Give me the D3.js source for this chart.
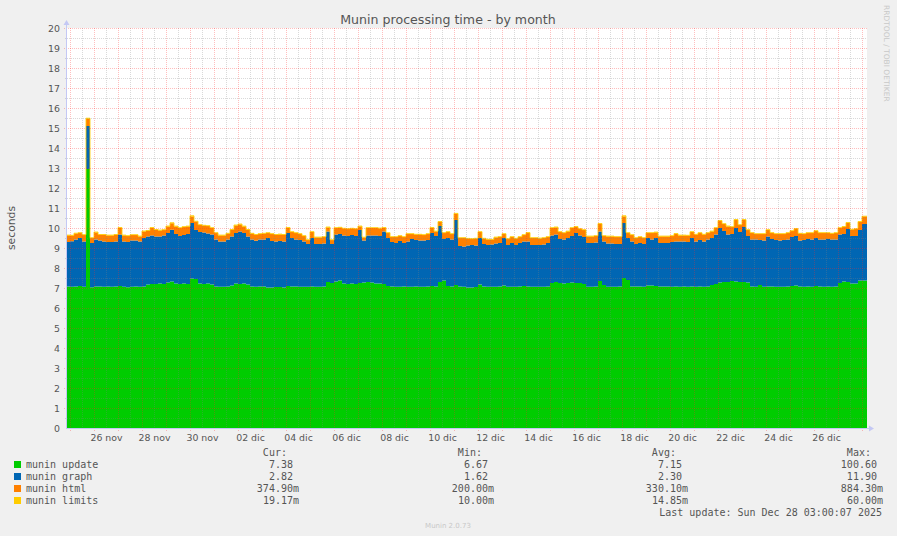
<!DOCTYPE html>
<html><head><meta charset="utf-8">
<script src="https://cdn.jsdelivr.net/npm/d3@7"></script>
<style>
body{margin:0;background:#f0f0f0;}
svg{display:block;}
</style>
</head><body>
<svg id="chart" width="897" height="536"></svg>
<script>
// ---------- DATA ----------
const firstSample = new Date(2025, 10, 24, 20, 0);   // 24 nov 20:00, 4-hour samples
const sampleHours = 4;

const seriesKeys   = ["update", "graph", "html", "limits"];
const seriesNames  = ["munin update", "munin graph", "munin html", "munin limits"];
const seriesColors = ["#00cc00", "#0066b3", "#ff8000", "#ffcc00"];

const update = [
 7.08,7.06,7.08,7.10,7.06,12.95,7.04,7.08,7.08,7.06,
 7.08,7.06,7.08,7.10,7.06,7.04,7.06,7.08,7.06,7.08,
 7.18,7.20,7.20,7.22,7.20,7.28,7.33,7.22,7.20,7.22,
 7.20,7.48,7.45,7.22,7.20,7.22,7.18,7.08,7.06,7.06,
 7.08,7.12,7.22,7.20,7.22,7.18,7.08,7.06,7.08,7.08,
 7.03,7.03,7.05,7.05,7.03,7.10,7.08,7.08,7.06,7.06,
 7.06,7.08,7.06,7.06,7.08,7.30,7.25,7.33,7.38,7.22,
 7.20,7.22,7.20,7.25,7.28,7.30,7.28,7.22,7.22,7.20,
 7.10,7.08,7.06,7.06,7.08,7.06,7.06,7.08,7.06,7.06,
 7.08,7.10,7.08,7.30,7.38,7.10,7.08,7.15,7.08,7.06,
 7.03,7.03,7.05,7.18,7.08,7.06,7.06,7.06,7.08,7.12,
 7.06,7.06,7.06,7.08,7.10,7.08,7.06,7.06,7.06,7.06,
 7.08,7.25,7.30,7.25,7.22,7.25,7.28,7.25,7.25,7.20,
 7.06,7.06,7.08,7.35,7.15,7.06,7.06,7.06,7.08,7.50,
 7.40,7.08,7.08,7.08,7.06,7.12,7.12,7.10,7.08,7.08,
 7.08,7.06,7.08,7.06,7.08,7.06,7.08,7.06,7.08,7.06,
 7.08,7.15,7.20,7.28,7.30,7.30,7.35,7.32,7.30,7.30,
 7.28,7.08,7.06,7.15,7.06,7.08,7.08,7.06,7.06,7.06,
 7.08,7.10,7.12,7.08,7.06,7.08,7.06,7.10,7.08,7.06,
 7.08,7.06,7.08,7.25,7.33,7.30,7.22,7.22,7.38,7.38
];
const graph = [
 2.22,2.28,2.34,2.40,2.27,2.15,2.21,2.35,2.30,2.27,
 2.22,2.24,2.25,2.57,2.27,2.26,2.32,2.30,2.27,2.42,
 2.40,2.42,2.38,2.36,2.42,2.47,2.58,2.48,2.40,2.43,
 2.50,2.77,2.45,2.58,2.57,2.50,2.49,2.34,2.27,2.27,
 2.34,2.46,2.53,2.63,2.53,2.40,2.34,2.30,2.34,2.34,
 2.47,2.32,2.28,2.30,2.30,2.65,2.42,2.34,2.34,2.27,
 2.14,2.42,2.14,2.14,2.14,2.53,1.95,2.34,2.32,2.40,
 2.40,2.43,2.40,2.65,2.10,2.32,2.34,2.40,2.38,2.63,
 2.40,2.22,2.19,2.29,2.17,2.27,2.39,2.32,2.32,2.32,
 2.32,2.65,2.52,2.80,2.07,2.40,2.34,3.25,2.02,2.02,
 2.10,2.12,2.08,2.32,2.12,2.09,2.11,2.17,2.17,2.38,
 2.09,2.19,2.09,2.17,2.23,2.25,2.09,2.09,2.09,2.11,
 2.17,2.37,2.37,2.20,2.20,2.25,2.32,2.50,2.37,2.35,
 2.19,2.19,2.19,2.48,2.18,2.16,2.16,2.14,2.12,2.75,
 2.10,2.25,2.12,2.17,2.14,2.38,2.30,2.40,2.17,2.17,
 2.17,2.24,2.25,2.27,2.25,2.24,2.42,2.27,2.32,2.27,
 2.34,2.35,2.47,2.72,2.55,2.37,2.35,2.68,2.50,2.75,
 2.32,2.34,2.36,2.25,2.32,2.50,2.37,2.34,2.32,2.34,
 2.34,2.45,2.48,2.30,2.34,2.37,2.36,2.40,2.34,2.36,
 2.37,2.36,2.34,2.42,2.37,2.65,2.38,2.38,2.52,2.82
];
const html = [
 0.33,0.28,0.30,0.25,0.32,0.35,0.25,0.35,0.28,0.33,
 0.33,0.33,0.33,0.33,0.30,0.30,0.27,0.27,0.25,0.33,
 0.28,0.38,0.33,0.30,0.28,0.33,0.33,0.38,0.40,0.40,
 0.38,0.33,0.42,0.35,0.35,0.38,0.33,0.33,0.30,0.30,
 0.30,0.33,0.38,0.35,0.33,0.33,0.30,0.30,0.28,0.30,
 0.25,0.35,0.33,0.33,0.33,0.25,0.30,0.33,0.30,0.27,
 0.20,0.30,0.33,0.33,0.33,0.20,0.20,0.33,0.32,0.35,
 0.35,0.32,0.35,0.18,0.15,0.38,0.38,0.38,0.38,0.17,
 0.25,0.25,0.30,0.25,0.30,0.37,0.25,0.27,0.29,0.27,
 0.30,0.25,0.23,0.20,0.30,0.30,0.28,0.30,0.40,0.42,
 0.34,0.30,0.34,0.30,0.27,0.27,0.25,0.30,0.30,0.20,
 0.30,0.30,0.32,0.30,0.32,0.42,0.35,0.35,0.33,0.33,
 0.30,0.38,0.36,0.35,0.33,0.33,0.40,0.30,0.33,0.35,
 0.33,0.33,0.33,0.37,0.27,0.36,0.36,0.35,0.35,0.33,
 0.25,0.32,0.30,0.30,0.30,0.25,0.33,0.28,0.33,0.33,
 0.33,0.30,0.37,0.30,0.30,0.32,0.30,0.34,0.35,0.34,
 0.33,0.33,0.33,0.35,0.35,0.41,0.35,0.40,0.35,0.35,
 0.30,0.33,0.28,0.30,0.32,0.32,0.30,0.30,0.32,0.30,
 0.33,0.30,0.35,0.34,0.30,0.30,0.33,0.35,0.33,0.33,
 0.30,0.30,0.33,0.33,0.35,0.30,0.32,0.35,0.40,0.37
];
const limits = [
 .015,.015,.02,.015,.015,.04,.015,.02,.015,.015,
 .015,.015,.015,.02,.015,.015,.015,.015,.015,.02,
 .015,.02,.015,.015,.015,.02,.02,.015,.015,.015,
 .015,.03,.02,.015,.015,.015,.015,.015,.015,.015,
 .015,.015,.02,.02,.015,.015,.015,.015,.015,.015,
 .015,.015,.015,.015,.015,.02,.015,.015,.015,.015,
 .01,.015,.015,.015,.015,.02,.01,.015,.015,.015,
 .015,.015,.015,.02,.01,.015,.015,.015,.015,.02,
 .015,.015,.015,.015,.015,.015,.015,.015,.015,.015,
 .015,.02,.015,.02,.015,.015,.015,.03,.015,.015,
 .01,.015,.015,.015,.015,.015,.01,.015,.015,.015,
 .015,.015,.015,.015,.015,.02,.015,.015,.015,.015,
 .015,.015,.02,.015,.015,.015,.015,.02,.015,.015,
 .015,.015,.015,.02,.015,.015,.015,.015,.015,.03,
 .015,.015,.015,.015,.015,.015,.015,.015,.015,.015,
 .015,.015,.02,.015,.015,.015,.015,.015,.015,.015,
 .015,.015,.015,.02,.015,.02,.015,.02,.015,.02,
 .015,.015,.015,.015,.015,.015,.015,.015,.015,.015,
 .015,.015,.02,.015,.015,.015,.015,.015,.015,.015,
 .015,.015,.015,.015,.02,.02,.015,.015,.02,.019
];

const curVals = [7.38, 2.82, 0.3749, 0.01917];
const minVals = [6.67, 1.62, 0.200, 0.0100];
const avgVals = [7.15, 2.30, 0.3301, 0.01485];
const maxVals = [100.60, 11.90, 0.8843, 0.0600];

const yTicks = [0,1,2,3,4,5,6,7,8,9,10,11,12,13,14,15,16,17,18,19,20];
const xTickLabels = ["26 nov","28 nov","30 nov","02 dic","04 dic","06 dic","08 dic","10 dic",
                     "12 dic","14 dic","16 dic","18 dic","20 dic","22 dic","24 dic","26 dic"];
const xTickFirst = new Date(2025, 10, 26, 12, 0);

const titleText = "Munin processing time - by month";
const yLabelText = "seconds";
const lastUpdateText = "Last update: Sun Dec 28 03:00:07 2025";
const footerText = "Munin 2.0.73";
const watermarkText = "RRDTOOL / TOBI OETIKER";

// ---------- LAYOUT ----------
const svg = d3.select("#chart");
const W = 897, H = 536;
const plot = {left: 67, top: 28, width: 800, height: 400};
const domainStart = new Date(2025, 10, 24, 21, 0);
const domainEnd   = new Date(2025, 11, 28, 5, 0);
const textColor = "#555";
const axisColor = "#c4c8f4";
const majorGrid = "rgba(255,40,40,0.30)";
const minorGrid = "rgba(128,128,128,0.30)";

svg.append("rect").attr("width", W).attr("height", H).attr("fill", "#f0f0f0");
svg.append("rect").attr("x", plot.left).attr("y", plot.top)
   .attr("width", plot.width).attr("height", plot.height).attr("fill", "#ffffff");

const x = d3.scaleTime().domain([domainStart, domainEnd]).range([plot.left, plot.left + plot.width]);
const y = d3.scaleLinear().domain([0, 20]).range([plot.top + plot.height, plot.top]);

// table for stacking
const rows = update.map((u, i) => ({
  time: d3.timeHour.offset(firstSample, i * sampleHours),
  update: u, graph: graph[i], html: html[i], limits: limits[i]
}));
const lastRow = rows[rows.length - 1];
rows.push(Object.assign({}, lastRow, {time: domainEnd}));

const stacked = d3.stack().keys(seriesKeys)(rows);

svg.append("clipPath").attr("id", "plotclip").append("rect")
   .attr("x", plot.left).attr("y", plot.top).attr("width", plot.width).attr("height", plot.height);

const area = d3.area()
  .x(d => x(d.data.time))
  .y0(d => y(d[0]))
  .y1(d => y(d[1]))
  .curve(d3.curveStepAfter);

const gData = svg.append("g").attr("clip-path", "url(#plotclip)");
gData.selectAll("path.area").data(stacked).join("path")
  .attr("class", "area")
  .attr("d", area)
  .attr("fill", (d, i) => seriesColors[i]);

// thin visible line for the tiny "limits" stack on top
const topLine = d3.line()
  .x(d => x(d.data.time))
  .y(d => y(d[1]))
  .curve(d3.curveStepAfter);
gData.append("path").datum(stacked[3]).attr("d", topLine)
  .attr("fill", "none").attr("stroke", "#ffcc00").attr("stroke-width", 1).attr("opacity", 0.85);

// ---------- GRID (drawn over data, as rrdtool does) ----------
const gGrid = svg.append("g").attr("shape-rendering", "crispEdges");
const halfSteps = d3.range(1, 40).map(v => v / 2).filter(v => v <= 20);
const minorY = halfSteps.filter(v => v % 1 !== 0);
const majorY = yTicks.filter(v => v > 0);

const noons = d3.timeHour.range(domainStart, domainEnd).filter(d => d.getHours() === 12);
const midnights = d3.timeDay.range(domainStart, domainEnd);

gGrid.selectAll("line.minx").data(noons).join("line")
  .attr("x1", d => Math.round(x(d)) + 0.5).attr("x2", d => Math.round(x(d)) + 0.5)
  .attr("y1", plot.top).attr("y2", plot.top + plot.height + 2)
  .attr("stroke", minorGrid).attr("stroke-dasharray", "1,1");
gGrid.selectAll("line.miny").data(minorY).join("line")
  .attr("x1", plot.left - 2).attr("x2", plot.left + plot.width)
  .attr("y1", d => Math.round(y(d)) + 0.5).attr("y2", d => Math.round(y(d)) + 0.5)
  .attr("stroke", minorGrid).attr("stroke-dasharray", "1,1");
gGrid.selectAll("line.majx").data(midnights).join("line")
  .attr("x1", d => Math.round(x(d)) + 0.5).attr("x2", d => Math.round(x(d)) + 0.5)
  .attr("y1", plot.top).attr("y2", plot.top + plot.height + 3)
  .attr("stroke", majorGrid).attr("stroke-dasharray", "1,1");
gGrid.selectAll("line.majy").data(majorY).join("line")
  .attr("x1", plot.left - 3).attr("x2", plot.left + plot.width)
  .attr("y1", d => Math.round(y(d)) + 0.5).attr("y2", d => Math.round(y(d)) + 0.5)
  .attr("stroke", majorGrid).attr("stroke-dasharray", "1,1");

// ---------- AXES ----------
const yAxis = d3.axisLeft(y).tickValues(yTicks).tickSize(0).tickPadding(7).tickFormat(d3.format("d"));
const gy = svg.append("g").attr("transform", `translate(${plot.left},0)`).call(yAxis);
gy.select(".domain").remove();
gy.selectAll("text").attr("fill", textColor)
  .attr("font-family", "DejaVu Sans").attr("font-size", 9.4);

const xTickDates = xTickLabels.map((_, i) => d3.timeDay.offset(xTickFirst, 2 * i));
const xAxis = d3.axisBottom(x).tickValues(xTickDates).tickSize(0).tickPadding(6.5)
  .tickFormat((d, i) => xTickLabels[i]);
const gx = svg.append("g").attr("transform", `translate(0,${plot.top + plot.height})`).call(xAxis);
gx.select(".domain").remove();
gx.selectAll("text").attr("fill", textColor)
  .attr("font-family", "DejaVu Sans").attr("font-size", 9.4);

// axis lines with arrows
const axisG = svg.append("g");
axisG.append("line").attr("x1", plot.left - 0.5).attr("x2", plot.left - 0.5)
  .attr("y1", plot.top + plot.height + 0.5).attr("y2", plot.top - 4)
  .attr("stroke", axisColor).attr("stroke-width", 1);
axisG.append("path")
  .attr("d", `M${plot.left - 3.5},${plot.top - 3} L${plot.left + 2.5},${plot.top - 3} L${plot.left - 0.5},${plot.top - 8} Z`)
  .attr("fill", axisColor);
axisG.append("line").attr("x1", plot.left - 1).attr("x2", plot.left + plot.width + 3)
  .attr("y1", plot.top + plot.height + 0.5).attr("y2", plot.top + plot.height + 0.5)
  .attr("stroke", axisColor).attr("stroke-width", 1);
axisG.append("path")
  .attr("d", `M${plot.left + plot.width + 2},${plot.top + plot.height - 2.5} L${plot.left + plot.width + 2},${plot.top + plot.height + 3.5} L${plot.left + plot.width + 7},${plot.top + plot.height + 0.5} Z`)
  .attr("fill", axisColor);

// ---------- TEXTS ----------
svg.append("text").attr("x", 448).attr("y", 23.5).attr("text-anchor", "middle")
  .attr("font-family", "DejaVu Sans").attr("font-size", 12.6).attr("fill", textColor)
  .text(titleText);

svg.append("text").attr("transform", "translate(14.5,228) rotate(-90)")
  .attr("text-anchor", "middle").attr("font-family", "DejaVu Sans").attr("font-size", 10.8)
  .attr("fill", textColor).text(yLabelText);

svg.append("text").attr("transform", "translate(884,5) rotate(90)")
  .attr("font-family", "DejaVu Sans").attr("font-size", 7.5).attr("fill", "#c8c8c8")
  .text(watermarkText);

svg.append("text").attr("x", 448).attr("y", 527.5).attr("text-anchor", "middle")
  .attr("font-family", "DejaVu Sans").attr("font-size", 7).attr("fill", "#c8c8c8")
  .text(footerText);

// ---------- LEGEND ----------
const mono = "DejaVu Sans Mono";
const charW = 6.02;
const colRight = [299, 494, 688, 883];
const headers = ["Cur:", "Min:", "Avg:", "Max:"];
const headerBase = 456;
const rowBase = [468, 480, 492, 504];

headers.forEach((h, i) => {
  svg.append("text").attr("x", colRight[i] - 2 * charW).attr("y", headerBase)
    .attr("text-anchor", "end").attr("font-family", mono).attr("font-size", 10)
    .attr("fill", textColor).text(h);
});

function fmt(v) { return v >= 1 ? v.toFixed(2) : (v * 1000).toFixed(2) + "m"; }

const colsVals = [curVals, minVals, avgVals, maxVals];
seriesNames.forEach((name, r) => {
  svg.append("rect").attr("x", 14).attr("y", rowBase[r] - 7).attr("width", 7).attr("height", 7)
    .attr("fill", seriesColors[r]);
  svg.append("text").attr("x", 26).attr("y", rowBase[r])
    .attr("font-family", mono).attr("font-size", 10).attr("fill", textColor).text(name);
  colsVals.forEach((vals, c) => {
    const s = fmt(vals[r]);
    const xr = s.endsWith("m") ? colRight[c] : colRight[c] - charW;
    svg.append("text").attr("x", xr).attr("y", rowBase[r]).attr("text-anchor", "end")
      .attr("font-family", mono).attr("font-size", 10).attr("fill", textColor).text(s);
  });
});

svg.append("text").attr("x", 882).attr("y", 516).attr("text-anchor", "end")
  .attr("font-family", mono).attr("font-size", 10).attr("fill", textColor).text(lastUpdateText);
</script>
</body></html>
